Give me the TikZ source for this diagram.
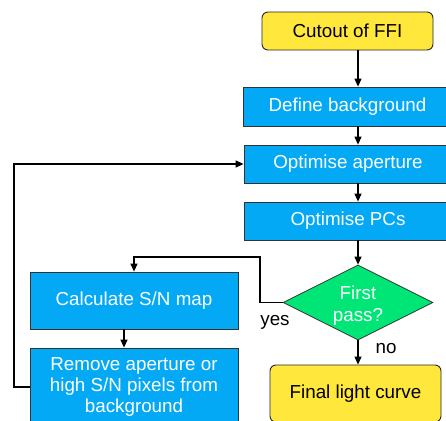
\documentclass[tikz,border=0pt]{standalone}
\usepackage{fontspec}
\setmainfont{Liberation Sans}
\usetikzlibrary{shapes.geometric,arrows.meta}
\definecolor{bbox}{HTML}{03A9F4}
\definecolor{ybox}{HTML}{FFE83B}
\definecolor{gbox}{HTML}{00E676}
\begin{document}
\begin{tikzpicture}[x=1pt,y=-1pt,
  font=\fontsize{18.8}{21}\selectfont,
  blue box/.style={draw=black!80, line width=0.8pt, fill=bbox, text=white, inner sep=0pt, align=center},
  yellow box/.style={draw=black!85, line width=0.9pt, fill=ybox, text=black, rounded corners=6pt, inner sep=0pt, align=center},
  decision/.style={diamond, aspect=2, draw=black!80, line width=0.8pt, fill=gbox, text=white, inner sep=0pt, align=center, minimum width=150pt, minimum height=75pt, font=\fontsize{18.8}{22}\selectfont},
  arr/.style={draw=black, line width=1.2pt, -{Triangle[length=8pt,width=7pt]}},
  ln/.style={draw=black, line width=1.2pt}]
\useasboundingbox (0,0) rectangle (446,420);
\clip (0,0) rectangle (446,420);
\node[yellow box, minimum width=171pt, minimum height=38pt] (cut) at (347.5,31) {Cutout of FFI};
\node[blue box, minimum width=209pt, minimum height=39pt] (def) at (347.5,106.5) {Define background};
\node[blue box, minimum width=208pt, minimum height=38pt] (opa) at (348,164) {Optimise aperture};
\node[blue box, minimum width=208pt, minimum height=38pt] (opc) at (348,221) {Optimise PCs};
\node[decision] (dia) at (358,302.5) {\rule{0pt}{19pt}First\\pass?};
\node[yellow box, minimum width=171pt, minimum height=57pt] (fin) at (355.5,393.5) {Final light curve};
\node[blue box, minimum width=208pt, minimum height=57pt] (cal) at (134,300.5) {Calculate S/N map};
\node[blue box, minimum width=208pt, minimum height=78pt] (rem) at (134,387) {Remove aperture or\\high S/N pixels from\\background};
\node (yes) at (275,322) {yes};
\node (no) at (386,349) {no};
\coordinate (k1) at (260,257);
\coordinate (k2) at (14,164);
\draw[arr] (cut.south -| dia) -- (def.north -| dia);
\draw[arr] (def.south -| dia) -- (opa.north -| dia);
\draw[arr] (opa.south -| dia) -- (opc.north -| dia);
\draw[arr] (opc.south -| dia) -- (dia.north);
\draw[arr] (dia.west) -| (k1) -| (cal.north);
\draw[arr] ([xshift=-10pt]cal.south) -- ([xshift=-10pt]rem.north);
\draw[arr] (rem.west) -| (k2) -- (opa.west);
\draw[arr] (dia.south) -- (fin.north -| dia);
\end{tikzpicture}
\end{document}
